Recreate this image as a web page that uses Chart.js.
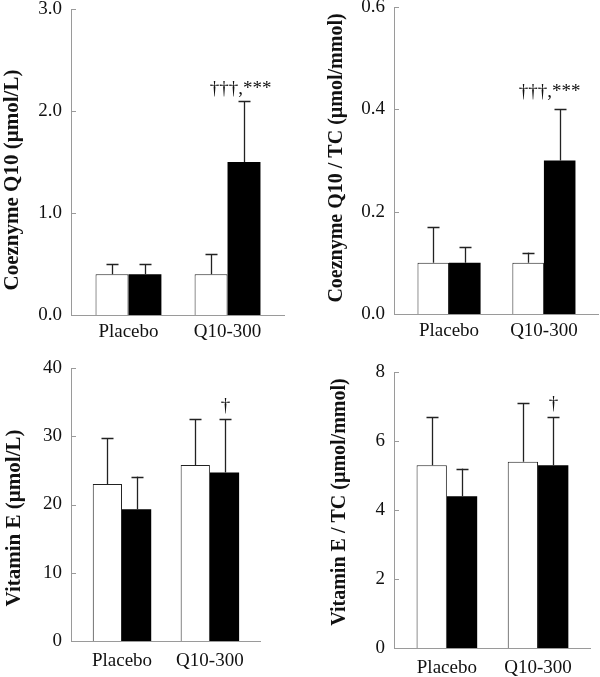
<!DOCTYPE html>
<html>
<head>
<meta charset="utf-8">
<script src="https://cdn.jsdelivr.net/npm/chart.js@4.4.1/dist/chart.umd.min.js"></script>
<style>
  html, body { margin: 0; padding: 0; background: #ffffff; }
  #wrap { position: relative; width: 600px; height: 677px; overflow: hidden; background: #fff; }
  .panel { position: absolute; }
</style>
</head>
<body>
<div id="wrap">
  <div class="panel" style="left:0px;top:0px;width:300px;height:340px"><canvas id="c1"></canvas></div>
  <div class="panel" style="left:300px;top:0px;width:300px;height:340px"><canvas id="c2"></canvas></div>
  <div class="panel" style="left:0px;top:340px;width:300px;height:337px"><canvas id="c3"></canvas></div>
  <div class="panel" style="left:300px;top:340px;width:300px;height:337px"><canvas id="c4"></canvas></div>
</div>
<script>
// ---- data ----
const groups = ["Placebo", "Q10-300"];

// Panel A: Coenzyme Q10 (µmol/L)
const q10Baseline = [0.4, 0.4];
const q10BaselineSD = [0.1, 0.2];
const q10After = [0.4, 1.5];
const q10AfterSD = [0.1, 0.6];
const q10Marks = ["", "†††,***"];
const q10Ticks = [0, 1, 2, 3];

// Panel B: Coenzyme Q10 / TC (µmol/mmol)
const q10tcBaseline = [0.1, 0.1];
const q10tcBaselineSD = [0.07, 0.02];
const q10tcAfter = [0.1, 0.3];
const q10tcAfterSD = [0.03, 0.1];
const q10tcMarks = ["", "†††,***"];
const q10tcTicks = [0, 0.2, 0.4, 0.6];

// Panel C: Vitamin E (µmol/L)
const veBaseline = [23.0, 25.8];
const veBaselineSD = [6.7, 6.7];
const veAfter = [19.3, 24.7];
const veAfterSD = [4.8, 7.8];
const veMarks = ["", "†"];
const veTicks = [0, 10, 20, 30, 40];

// Panel D: Vitamin E / TC (µmol/mmol)
const vetcBaseline = [5.3, 5.4];
const vetcBaselineSD = [1.4, 1.7];
const vetcAfter = [4.4, 5.3];
const vetcAfterSD = [0.8, 1.4];
const vetcMarks = ["", "†"];
const vetcTicks = [0, 2, 4, 6, 8];

const FONT = "'Liberation Serif', 'Times New Roman', serif";

// error bars, inward ticks, annotations and rotated y title
const decorPlugin = {
  id: 'decor',
  afterDatasetsDraw(chart, args, opts) {
    const ctx = chart.ctx;
    const ys = chart.scales.y;
    const area = chart.chartArea;
    ctx.save();
    // inward tick marks
    ctx.strokeStyle = '#9a9a9a';
    ctx.lineWidth = 1;
    ys.ticks.forEach(t => {
      const py = Math.round(ys.getPixelForValue(t.value)) + 0.5;
      ctx.beginPath();
      ctx.moveTo(area.left, py);
      ctx.lineTo(area.left + 5, py);
      ctx.stroke();
    });
    // error bars
    ctx.strokeStyle = '#222';
    ctx.lineWidth = 1.3;
    chart.data.datasets.forEach((ds, di) => {
      const meta = chart.getDatasetMeta(di);
      meta.data.forEach((bar, i) => {
        const v = ds.data[i].y;
        const top = ys.getPixelForValue(v + ds.sd[i]);
        const x = Math.round(bar.x) + 0.5;
        ctx.beginPath();
        ctx.moveTo(x, bar.y);
        ctx.lineTo(x, top);
        ctx.moveTo(x - 6, Math.round(top) + 0.5);
        ctx.lineTo(x + 6, Math.round(top) + 0.5);
        ctx.stroke();
        const mark = ds.marks ? ds.marks[i] : '';
        if (mark) {
          ctx.fillStyle = '#111';
          ctx.font = '19px ' + FONT;
          ctx.textAlign = 'center';
          ctx.textBaseline = 'alphabetic';
          ctx.fillText(mark, x + (opts.markDx || 0), top - (opts.markGap || 6));
        }
      });
    });
    // y title
    ctx.fillStyle = '#111';
    ctx.font = 'bold ' + opts.titleSize + 'px ' + FONT;
    ctx.textAlign = 'center';
    ctx.textBaseline = 'middle';
    ctx.translate(opts.titleX, opts.titleY);
    ctx.rotate(-Math.PI / 2);
    ctx.fillText(opts.title, 0, 0);
    ctx.restore();
  }
};

function toPoints(vals) { return vals.map((v, i) => ({ x: i, y: v })); }

function makePanel(id, cfg) {
  const c = document.getElementById(id);
  return new Chart(c, {
    type: 'bar',
    data: {
      datasets: [
        { label: 'Baseline', data: toPoints(cfg.base), sd: cfg.baseSD, backgroundColor: '#ffffff', borderColor: '#222', borderWidth: 1, borderSkipped: 'bottom' },
        { label: 'After', data: toPoints(cfg.after), sd: cfg.afterSD, marks: cfg.marks, backgroundColor: '#000000', borderColor: '#000', borderWidth: 0 }
      ]
    },
    options: {
      responsive: true,
      maintainAspectRatio: false,
      animation: false,
      events: [],
      layout: { padding: { top: cfg.padTop, right: cfg.padRight, left: 0, bottom: 0 } },
      plugins: {
        legend: { display: false },
        tooltip: { enabled: false },
        decor: { title: cfg.title, titleSize: cfg.titleSize, titleX: cfg.titleX, titleY: cfg.titleY, markDx: cfg.markDx, markGap: cfg.markGap }
      },
      datasets: { bar: { categoryPercentage: 0.665, barPercentage: 1.0 } },
      scales: {
        x: {
          type: 'linear',
          min: -0.58,
          max: 1.57,
          offset: false,
          afterBuildTicks: s => { s.ticks = groups.map((g, i) => ({ value: i })); },
          grid: { display: false, drawTicks: false },
          border: { color: '#9a9a9a', width: 1 },
          ticks: { color: '#111', font: { family: FONT, size: 19 }, padding: cfg.xPad, maxRotation: 0, autoSkip: false,
                   callback: v => groups[v] },
          afterFit: s => { s.height = cfg.xHeight; s.paddingLeft = 0; s.paddingRight = 0; }
        },
        y: {
          min: cfg.ticks[0],
          max: cfg.ticks[cfg.ticks.length - 1],
          afterBuildTicks: s => { s.ticks = cfg.ticks.map(v => ({ value: v })); },
          grid: { display: false, drawTicks: false },
          border: { color: '#9a9a9a', width: 1 },
          ticks: {
            color: '#111', font: { family: FONT, size: 19 }, padding: 9,
            callback: v => Number(v).toFixed(cfg.decimals)
          },
          afterFit: s => { s.width = cfg.yWidth; s.paddingTop = 0; s.paddingBottom = 0; }
        }
      }
    },
    plugins: [decorPlugin]
  });
}

makePanel('c1', {
  base: q10Baseline, baseSD: q10BaselineSD, after: q10After, afterSD: q10AfterSD, marks: q10Marks,
  ticks: q10Ticks, decimals: 1, title: 'Coeznyme Q10 (µmol/L)', titleSize: 21,
  padTop: 9, padRight: 16, yWidth: 71, xHeight: 25, xPad: 6, titleX: 13, titleY: 180, markDx: -4, markGap: 7
});
makePanel('c2', {
  base: q10tcBaseline, baseSD: q10tcBaselineSD, after: q10tcAfter, afterSD: q10tcAfterSD, marks: q10tcMarks,
  ticks: q10tcTicks, decimals: 1, title: 'Coeznyme Q10 / TC (µmol/mmol)', titleSize: 20,
  padTop: 7, padRight: 2, yWidth: 94, xHeight: 26, xPad: 6, titleX: 37, titleY: 158, markDx: -11, markGap: 12
});
makePanel('c3', {
  base: veBaseline, baseSD: veBaselineSD, after: veAfter, afterSD: veAfterSD, marks: veMarks,
  ticks: veTicks, decimals: 0, title: 'Vitamin E (µmol/L)', titleSize: 21,
  padTop: 28, padRight: 40, yWidth: 71, xHeight: 36, xPad: 9, titleX: 15, titleY: 178, markDx: 0, markGap: 8
});
makePanel('c4', {
  base: vetcBaseline, baseSD: vetcBaselineSD, after: vetcAfter, afterSD: vetcAfterSD, marks: vetcMarks,
  ticks: vetcTicks, decimals: 0, title: 'Vitamin E / TC (µmol/mmol)', titleSize: 20,
  padTop: 32, padRight: 10, yWidth: 94, xHeight: 29, xPad: 9, titleX: 40, titleY: 162, markDx: 0, markGap: 8
});
</script>
</body>
</html>
